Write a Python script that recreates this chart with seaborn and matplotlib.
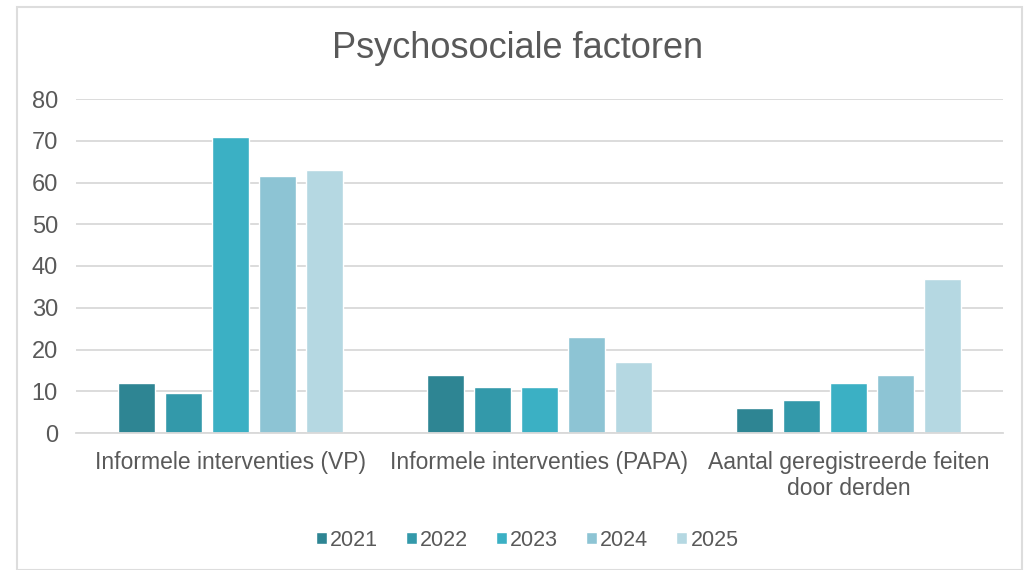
import matplotlib
matplotlib.use("Agg")
import matplotlib.pyplot as plt
import seaborn as sns
import pandas as pd
from matplotlib.patches import Rectangle

categories = ["Informele interventies (VP)", "Informele interventies (PAPA)",
              "Aantal geregistreerde feiten\ndoor derden"]
years = ["2021", "2022", "2023", "2024", "2025"]
v2021 = [12, 14, 6]
v2022 = [9.5, 11, 8]
v2023 = [71, 11, 12]
v2024 = [61.5, 23, 14]
v2025 = [63, 17, 37]
colors = ["#2E8593", "#3399AA", "#3BB0C4", "#8DC4D4", "#B5D8E2"]

rows = []
for y, vals in zip(years, [v2021, v2022, v2023, v2024, v2025]):
    for c, v in zip(categories, vals):
        rows.append({"cat": c, "year": y, "value": v})
df = pd.DataFrame(rows)

sns.set_theme(style="white")
plt.rcParams['font.family'] = ['Liberation Sans', 'DejaVu Sans']
txt = "#595959"

fig = plt.figure(figsize=(10.36, 5.7), dpi=100)
ax = fig.add_axes([76/1036, 1-433/570, (1003-76)/1036, (433-99)/570])

sns.barplot(data=df, x="cat", y="value", hue="year", palette=colors,
            width=0.76, gap=0.22, ax=ax, legend=True, saturation=1)

ax.set_ylim(0, 80)
ax.set_xlim(-0.5, 2.5)
ax.set_yticks(range(0, 81, 10))
ax.yaxis.grid(True, color="#D9D9D9", linewidth=1.3)
ax.set_axisbelow(True)
for s in ["top", "right", "left"]:
    ax.spines[s].set_visible(False)
ax.spines["bottom"].set_color("#D9D9D9")
ax.spines["bottom"].set_linewidth(1.3)
ax.tick_params(axis="both", length=0, labelcolor=txt)
ax.tick_params(axis="y", pad=13, labelsize=17)
ax.tick_params(axis="x", pad=13, labelsize=16.5)
for lbl in ax.get_xticklabels():
    lbl.set_linespacing(1.15)
ax.set_xlabel("")
ax.set_ylabel("")

fig.text(0.5, 1-49/570, "Psychosociale factoren", ha="center", va="center",
         fontsize=26, color=txt)

handles, labels = ax.get_legend_handles_labels()
ax.legend(handles, labels, loc="center", bbox_to_anchor=(0.509, 1-540/570),
          bbox_transform=fig.transFigure, ncol=5, frameon=False,
          fontsize=15.5, labelcolor=txt, handlelength=0.5, handleheight=0.5,
          handletextpad=0.15, columnspacing=1.3)

fig.patches.append(Rectangle((17/1036, 0), (1022-17)/1036, 1-7/570,
                             transform=fig.transFigure, fill=False,
                             edgecolor="#DDDDDD", linewidth=1.5))

fig.savefig("out.png", dpi=100)
